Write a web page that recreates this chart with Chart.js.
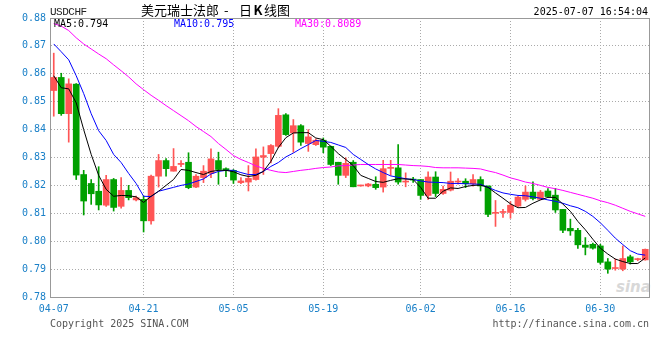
<!DOCTYPE html>
<html><head><meta charset="utf-8">
<script src="https://cdn.jsdelivr.net/npm/chart.js@4.4.0/dist/chart.umd.min.js"></script>
<style>
html,body{margin:0;padding:0;background:#fff;}
#wrap{position:relative;width:660px;height:360px;overflow:hidden;background:#fff;}
canvas{position:absolute;left:0;top:0;}
.t{position:absolute;white-space:pre;line-height:12px;font-family:'DejaVu Sans Mono',monospace;font-size:10px;}
.cj{position:absolute;top:2px;font-family:'Noto Sans CJK SC';font-size:13px;line-height:16px;color:#000;white-space:pre;}
</style></head><body>
<div id="wrap">
<div class="t" style="left:616px;top:279px;font-family:'DejaVu Sans';font-style:italic;font-weight:bold;font-size:15px;line-height:16px;color:#d8d8d8">sina</div>
<canvas id="c" width="660" height="360"></canvas>
<div class="t" style="left:50px;top:6px;font-family:'Liberation Mono',monospace;font-size:11px;letter-spacing:-0.5px;color:#222">USDCHF</div>
<div class="cj" style="left:141px">美元瑞士法郎</div>
<div class="cj" style="left:224px">-</div>
<div class="cj" style="left:239px">日<b style="display:inline-block;width:12px;text-align:center">K</b>线图</div>
<div class="t" style="right:12px;top:6px;color:#000">2025-07-07 16:54:04</div>
<div class="t" id="l5" style="left:54px;top:18px;color:#000"></div>
<div class="t" id="l10" style="left:174px;top:18px;color:#0000ff"></div>
<div class="t" id="l30" style="left:295px;top:18px;color:#ff00ff"></div>
<div class="t" style="left:50px;top:318px;color:#555">Copyright 2025 SINA.COM</div>
<div class="t" style="right:11px;top:318px;color:#555">http://finance.sina.com.cn</div>
</div>
<script>
const dates = ['04-07','04-08','04-09','04-10','04-11','04-12',
'04-14','04-15','04-16','04-17','04-18','04-19',
'04-21','04-22','04-23','04-24','04-25','04-26',
'04-28','04-29','04-30','05-01','05-02','05-03',
'05-05','05-06','05-07','05-08','05-09','05-10',
'05-12','05-13','05-14','05-15','05-16','05-17',
'05-19','05-20','05-21','05-22','05-23','05-24','05-25',
'05-26','05-27','05-28','05-29','05-30','05-31',
'06-02','06-03','06-04','06-05','06-06','06-07',
'06-09','06-10','06-11','06-12','06-13','06-14',
'06-16','06-17','06-18','06-19','06-20','06-21',
'06-23','06-24','06-25','06-26','06-27','06-28',
'06-30','07-01','07-02','07-03','07-04','07-05','07-07'];

const open = [0.8540,0.8587,0.8457,0.8563,0.8239,0.8207,0.8179,0.8129,0.8221,0.8125,
0.8182,0.8148,0.8150,0.8073,0.8233,0.8289,0.8251,0.8275,0.8283,0.8194,
0.8228,0.8243,0.8289,0.8260,0.8254,0.8210,0.8212,0.8221,0.8301,0.8314,
0.8340,0.8453,0.8388,0.8414,0.8350,0.8346,0.8362,0.8340,0.8283,0.8236,
0.8283,0.8198,0.8198,0.8204,0.8194,0.8261,0.8263,0.8212,0.8222,0.8221,
0.8164,0.8230,0.8171,0.8183,0.8212,0.8215,0.8206,0.8221,0.8198,0.8100,
0.8103,0.8103,0.8126,0.8150,0.8176,0.8150,0.8180,0.8165,0.8114,0.8046,
0.8039,0.7986,0.7989,0.7983,0.7926,0.7902,0.7900,0.7944,0.7934,0.7933];

const high = [0.8674,0.8602,0.8582,0.8565,0.8254,0.8221,0.8267,0.8236,0.8225,0.8228,
0.8200,0.8162,0.8162,0.8237,0.8311,0.8296,0.8332,0.8289,0.8317,0.8239,
0.8271,0.8331,0.8319,0.8263,0.8257,0.8228,0.8271,0.8331,0.8338,0.8346,
0.8475,0.8457,0.8436,0.8418,0.8400,0.8367,0.8370,0.8341,0.8283,0.8299,
0.8289,0.8201,0.8207,0.8231,0.8290,0.8290,0.8346,0.8245,0.8229,0.8221,
0.8249,0.8249,0.8198,0.8248,0.8224,0.8224,0.8239,0.8231,0.8198,0.8146,
0.8114,0.8142,0.8162,0.8198,0.8213,0.8182,0.8189,0.8189,0.8114,0.8079,
0.8046,0.8013,0.7993,0.7989,0.7938,0.7936,0.7983,0.7950,0.7939,0.7972];

const low = [0.8448,0.8451,0.8355,0.8221,0.8094,0.8132,0.8112,0.8125,0.8108,0.8118,
0.8148,0.8144,0.8033,0.8061,0.8194,0.8233,0.8251,0.8267,0.8188,0.8192,
0.8210,0.8228,0.8204,0.8231,0.8207,0.8206,0.8180,0.8219,0.8239,0.8281,
0.8335,0.8379,0.8319,0.8343,0.8322,0.8343,0.8317,0.8271,0.8204,0.8228,
0.8195,0.8197,0.8195,0.8186,0.8176,0.8236,0.8204,0.8195,0.8211,0.8150,
0.8150,0.8160,0.8168,0.8180,0.8204,0.8192,0.8197,0.8180,0.8088,0.8053,
0.8085,0.8082,0.8124,0.8144,0.8148,0.8148,0.8160,0.8103,0.8031,0.8021,
0.7974,0.7951,0.7971,0.7918,0.7885,0.7896,0.7894,0.7918,0.7930,0.7932];

const close = [0.8587,0.8457,0.8564,0.8237,0.8144,0.8170,0.8130,0.8221,0.8121,0.8182,
0.8156,0.8156,0.8073,0.8233,0.8289,0.8260,0.8268,0.8279,0.8192,0.8233,
0.8251,0.8295,0.8257,0.8254,0.8219,0.8216,0.8225,0.8302,0.8307,0.8343,
0.8451,0.8382,0.8414,0.8355,0.8374,0.8362,0.8337,0.8275,0.8236,0.8279,
0.8195,0.8200,0.8205,0.8192,0.8260,0.8263,0.8212,0.8215,0.8219,0.8164,
0.8230,0.8171,0.8186,0.8215,0.8215,0.8206,0.8221,0.8198,0.8096,0.8103,
0.8106,0.8129,0.8158,0.8176,0.8153,0.8176,0.8160,0.8112,0.8039,0.8037,
0.7987,0.7978,0.7975,0.7924,0.7900,0.7904,0.7938,0.7926,0.7936,0.7971];

const ma5 = [0.8593,0.8550,0.8546,0.8496,0.8400,0.8311,0.8236,0.8186,0.8161,0.8164,
0.8163,0.8159,0.8139,0.8161,0.8179,0.8200,0.8221,0.8257,0.8254,0.8246,
0.8239,0.8250,0.8254,0.8254,0.8249,0.8238,0.8232,0.8236,0.8250,0.8286,
0.8336,0.8371,0.8388,0.8389,0.8389,0.8370,0.8364,0.8340,0.8314,0.8293,
0.8271,0.8236,0.8225,0.8214,0.8211,0.8218,0.8224,0.8223,0.8221,0.8193,
0.8154,0.8154,0.8179,0.8191,0.8189,0.8196,0.8200,0.8201,0.8193,0.8173,
0.8154,0.8134,0.8120,0.8121,0.8136,0.8148,0.8157,0.8157,0.8133,0.8107,
0.8071,0.8041,0.8007,0.7975,0.7954,0.7936,0.7927,0.7920,0.7920,0.7940];

const ma10 = [0.8707,0.8679,0.8650,0.8593,0.8529,0.8457,0.8396,0.8361,0.8311,0.8282,
0.8243,0.8207,0.8161,0.8160,0.8179,0.8186,0.8193,0.8200,0.8205,0.8214,
0.8223,0.8241,0.8250,0.8254,0.8254,0.8246,0.8239,0.8239,0.8250,0.8268,
0.8282,0.8302,0.8316,0.8332,0.8346,0.8361,0.8358,0.8354,0.8345,0.8336,
0.8311,0.8293,0.8275,0.8259,0.8246,0.8234,0.8229,0.8224,0.8221,0.8216,
0.8212,0.8211,0.8210,0.8207,0.8207,0.8206,0.8205,0.8204,0.8193,0.8182,
0.8173,0.8168,0.8164,0.8163,0.8159,0.8154,0.8148,0.8143,0.8136,0.8127,
0.8120,0.8107,0.8089,0.8066,0.8039,0.8011,0.7988,0.7966,0.7954,0.7950];

const ma30 = [0.8780,0.8771,0.8755,0.8729,0.8707,0.8689,0.8671,0.8654,0.8632,0.8611,
0.8589,0.8564,0.8543,0.8523,0.8505,0.8486,0.8468,0.8450,0.8432,0.8411,
0.8393,0.8375,0.8350,0.8329,0.8307,0.8293,0.8282,0.8270,0.8261,0.8254,
0.8248,0.8246,0.8250,0.8254,0.8257,0.8261,0.8264,0.8266,0.8270,0.8271,
0.8273,0.8275,0.8275,0.8275,0.8275,0.8275,0.8275,0.8273,0.8271,0.8270,
0.8268,0.8264,0.8263,0.8263,0.8263,0.8262,0.8261,0.8259,0.8252,0.8246,
0.8237,0.8227,0.8220,0.8212,0.8207,0.8200,0.8193,0.8188,0.8182,0.8175,
0.8168,0.8161,0.8154,0.8145,0.8138,0.8129,0.8118,0.8107,0.8098,0.8089];

const yTickValues = [0.78,0.79,0.80,0.81,0.82,0.83,0.84,0.85,0.86,0.87,0.88];
const xTickDates = ['04-07','04-21','05-05','05-19','06-02','06-16','06-30'];

const UP = '#ff5555', DOWN = '#00a000', AXIS_TXT = '#1a80c8';
const candleColor = dates.map((d, i) => close[i] >= open[i] ? UP : DOWN);
const tickIdx = xTickDates.map(d => dates.indexOf(d));
const last = a => a[a.length - 1];
document.getElementById('l5').textContent = 'MA5:' + last(ma5).toFixed(3);
document.getElementById('l10').textContent = 'MA10:' + last(ma10).toFixed(3);
document.getElementById('l30').textContent = 'MA30:' + last(ma30).toFixed(4);

const frame = {
  id: 'frame',
  beforeDatasetsDraw(chart) {
    const {ctx, chartArea: a} = chart;
    ctx.save();
    ctx.strokeStyle = '#999';
    ctx.lineWidth = 1;
    ctx.strokeRect(a.left + 0.5, a.top + 0.5, a.right - a.left, a.bottom - a.top);
    ctx.restore();
  }
};

const tickFont = {family: 'DejaVu Sans Mono', size: 10};
const lineDs = (label, data, color) => ({type: 'line', label, data, borderColor: color, borderWidth: 1,
  pointRadius: 0, tension: 0, fill: false, order: 0});

new Chart(document.getElementById('c'), {
  type: 'bar',
  data: {
    labels: dates,
    datasets: [
      lineDs('MA5', ma5, '#000000'),
      lineDs('MA10', ma10, '#0000ff'),
      lineDs('MA30', ma30, '#ff00ff'),
      {label: 'body', data: open.map((o, i) => [o, close[i]]), backgroundColor: candleColor,
        barThickness: 6, minBarLength: 1, grouped: false, order: 1},
      {label: 'wick', data: low.map((l, i) => [l, high[i]]), backgroundColor: candleColor,
        barThickness: 1, minBarLength: 1, grouped: false, order: 2}
    ]
  },
  options: {
    responsive: false, animation: false, devicePixelRatio: 1,
    layout: {padding: {top: 18, right: 11, left: 0, bottom: 0}},
    plugins: {legend: {display: false}, tooltip: {enabled: false}},
    scales: {
      x: {
        offset: true,
        afterBuildTicks: s => { s.ticks = tickIdx.map(v => ({value: v})); },
        afterFit: s => { s.height = 63; },
        grid: {offset: false, drawTicks: false, lineWidth: 1,
          color: c => c.index === 0 ? 'rgba(0,0,0,0)' : '#aaaaaa'},
        border: {display: true, color: '#999', dash: [1, 2]},
        ticks: {autoSkip: false, maxRotation: 0, padding: 6, color: AXIS_TXT, font: tickFont}
      },
      y: {
        min: 0.78, max: 0.88,
        afterBuildTicks: s => { s.ticks = yTickValues.map(v => ({value: v})); },
        afterFit: s => { s.width = 50; },
        grid: {drawTicks: false, color: '#aaaaaa', lineWidth: 1},
        border: {display: true, color: '#999', dash: [1, 2]},
        ticks: {padding: 4, color: AXIS_TXT, font: tickFont, callback: v => Number(v).toFixed(2)}
      }
    }
  },
  plugins: [frame]
});
</script>
</body></html>
